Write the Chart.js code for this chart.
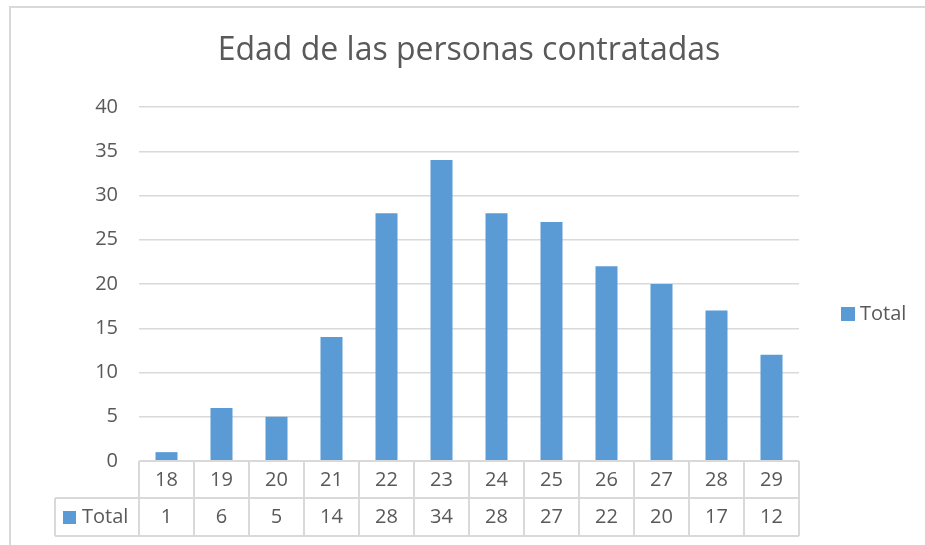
<!DOCTYPE html>
<html>
<head>
<meta charset="utf-8">
<script src="https://cdn.jsdelivr.net/npm/chart.js@4/dist/chart.umd.min.js"></script>
<style>
    html, body { margin: 0; padding: 0; background: #fff; overflow: hidden; }
    #wrap { position: relative; width: 925px; height: 545px; }
    #frame { position: absolute; left: 9px; top: 6px; width: 1000px; height: 1000px; border: 2px solid #d9d9d9; pointer-events: none; }
    canvas { position: absolute; left: 0; top: 0; }
</style>
</head>
<body>
<div id="wrap">
    <canvas id="myChart" width="925" height="545"></canvas>
    <div id="frame"></div>
</div>
<script>
const titulo = 'Edad de las personas contratadas';
const edades = ['18', '19', '20', '21', '22', '23', '24', '25', '26', '27', '28', '29'];
const serieNombre = 'Total';
const totales = [1, 6, 5, 14, 28, 34, 28, 27, 22, 20, 17, 12];
const yTicks = [0, 5, 10, 15, 20, 25, 30, 35, 40];

const azul = '#5b9bd5';
const texto = '#595959';
const gris = '#d9d9d9';
const fuente = "'Open Sans', sans-serif";

// tabla de datos bajo el eje x + leyenda a la derecha
const tablaDatos = {
    id: 'tablaDatos',
    afterDraw(chart) {
        const ctx = chart.ctx;
        const area = chart.chartArea;
        const x = chart.scales.x;
        const n = edades.length;
        const w = (area.right - area.left) / n;
        const top = area.bottom;
        const fila1 = top + 37;
        const fila2 = top + 75;
        const izq = 55;

        ctx.save();
        ctx.strokeStyle = gris;
        ctx.lineWidth = 2;
        ctx.beginPath();
        for (let i = 0; i <= n; i++) {
            const px = Math.round(area.left + i * w);
            ctx.moveTo(px, top);
            ctx.lineTo(px, fila2);
        }
        ctx.moveTo(area.left, top);
        ctx.lineTo(area.right, top);
        ctx.moveTo(izq, fila1);
        ctx.lineTo(area.right, fila1);
        ctx.moveTo(izq, fila2);
        ctx.lineTo(area.right, fila2);
        ctx.moveTo(izq, fila1);
        ctx.lineTo(izq, fila2);
        ctx.stroke();

        ctx.font = '20px ' + fuente;
        ctx.fillStyle = texto;
        ctx.textAlign = 'center';
        ctx.textBaseline = 'middle';
        totales.forEach((v, i) => {
            ctx.fillText(String(v), x.getPixelForValue(i), (fila1 + fila2) / 2);
        });

        // cabecera de fila
        ctx.fillStyle = azul;
        ctx.fillRect(63, 511, 13, 13);
        ctx.fillStyle = texto;
        ctx.textAlign = 'left';
        ctx.fillText(serieNombre, 82, (fila1 + fila2) / 2);

        // leyenda
        ctx.fillStyle = azul;
        ctx.fillRect(841, 307, 14, 14);
        ctx.fillStyle = texto;
        ctx.fillText(serieNombre, 860, 314);
        ctx.restore();
    }
};

const ctx = document.getElementById('myChart').getContext('2d');
const myChart = new Chart(ctx, {
    type: 'bar',
    data: {
        labels: edades,
        datasets: [{
            label: serieNombre,
            data: totales,
            backgroundColor: azul,
            borderWidth: 0,
            barPercentage: 0.4,
            categoryPercentage: 1
        }]
    },
    options: {
        responsive: false,
        animation: false,
        devicePixelRatio: 1,
        layout: {
            padding: { left: 0, right: 126, top: 0, bottom: 0 }
        },
        plugins: {
            legend: { display: false },
            tooltip: { enabled: false },
            title: {
                display: true,
                text: titulo,
                fullSize: false,
                color: texto,
                font: { family: fuente, size: 32, weight: 'normal' },
                padding: { top: 32, bottom: 36.6 }
            }
        },
        scales: {
            x: {
                afterFit: (s) => { s.height = 84; },
                grid: { display: false },
                border: { display: false },
                ticks: {
                    color: texto,
                    font: { family: fuente, size: 20 },
                    padding: -1,
                    maxRotation: 0,
                    autoSkip: false
                }
            },
            y: {
                min: yTicks[0],
                max: yTicks[yTicks.length - 1],
                afterFit: (s) => { s.width = 139; },
                afterBuildTicks: (s) => { s.ticks = yTicks.map(v => ({ value: v })); },
                grid: { color: gris, lineWidth: 1.5, drawTicks: false },
                border: { display: false },
                ticks: {
                    color: texto,
                    font: { family: fuente, size: 20 },
                    padding: 21
                }
            }
        }
    },
    plugins: [tablaDatos]
});
</script>
</body>
</html>
